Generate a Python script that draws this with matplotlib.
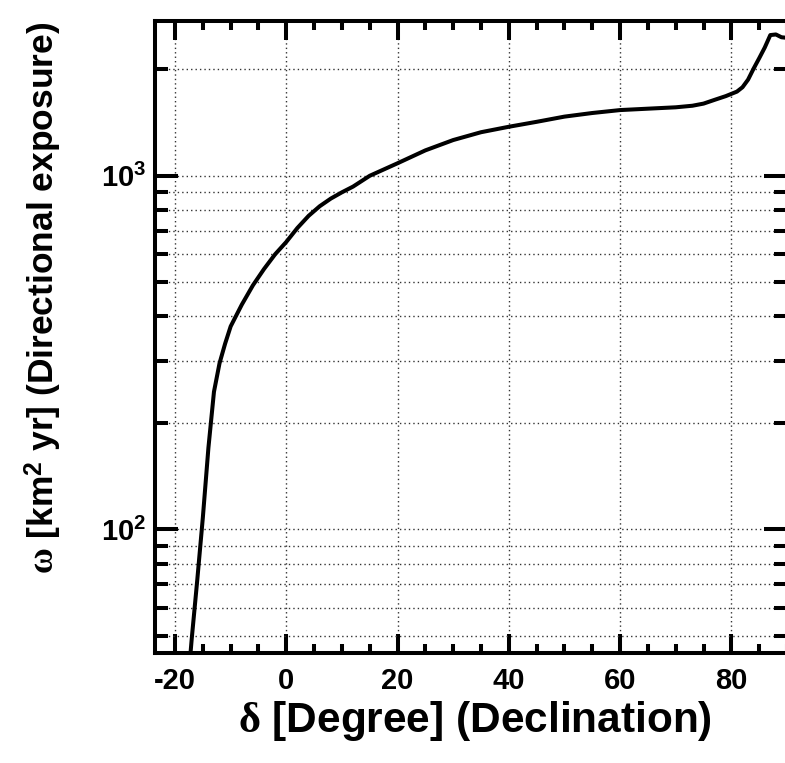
import matplotlib
matplotlib.use('Agg')
import matplotlib.pyplot as plt
from matplotlib.ticker import MultipleLocator, LogLocator, NullFormatter

# directional exposure vs declination
dec = [-18, -17, -16, -15, -14, -13, -12, -11, -10, -8, -6, -4, -2, 0,
       2, 4, 6, 8, 10, 12, 15, 20, 25, 30, 35, 40, 45, 50, 55, 60, 65, 70,
       73, 75, 77, 79, 81, 82, 83, 84, 85, 86, 87, 88, 89, 90]
exposure = [32, 49, 72, 108, 170, 245, 295, 335, 375, 432, 490, 545, 600, 650,
            712, 770, 820, 862, 898, 932, 1000, 1085, 1180, 1262, 1328, 1376, 1421, 1470, 1505, 1534, 1548, 1562,
            1578, 1600, 1640, 1680, 1730, 1780, 1870, 2010, 2150, 2305, 2500, 2510, 2465, 2455]

plt.rcParams['font.family'] = ['Liberation Sans', 'DejaVu Sans']
plt.rcParams['font.weight'] = 'bold'
plt.rcParams['axes.unicode_minus'] = False
plt.rcParams['mathtext.fontset'] = 'custom'
plt.rcParams['mathtext.rm'] = 'Liberation Sans:bold'
plt.rcParams['mathtext.bf'] = 'Liberation Sans:bold'
plt.rcParams['mathtext.it'] = 'Liberation Serif'

W, H = 785, 763
fig = plt.figure(figsize=(W / 100, H / 100), dpi=100)
ax = fig.add_axes([155 / W, (H - 653) / H, (787 - 155) / W, (653 - 21) / H])

ax.plot(dec, exposure, color='black', lw=2.9)

ax.set_yscale('log')
ax.set_xlim(-23.6, 90)
ax.set_ylim(44.7, 2740)

ax.xaxis.set_major_locator(MultipleLocator(20))
ax.xaxis.set_minor_locator(MultipleLocator(5))
ax.yaxis.set_major_locator(LogLocator(base=10))
ax.yaxis.set_minor_locator(LogLocator(base=10, subs=range(2, 10)))
ax.yaxis.set_minor_formatter(NullFormatter())

# grid
ax.grid(True, which='major', axis='x', ls=(0, (1, 2.2)), color='#333333', lw=1.0)
ax.grid(True, which='both', axis='y', ls=(0, (1, 2.2)), color='#333333', lw=1.0)
ax.set_axisbelow(True)

for s in ax.spines.values():
    s.set_linewidth(2.9)

ax.tick_params(which='both', direction='in', top=True, right=True, width=2.9,
               labelsize=21, colors='black')
ax.tick_params(axis='x', which='major', length=14, pad=10)
ax.tick_params(axis='x', which='minor', length=6.5)
ax.tick_params(axis='y', which='major', length=16.5, pad=6)
ax.tick_params(axis='y', which='minor', length=9.5)

fig.text(475 / W, 1 - 721 / H, r'$\delta$ [Degree] (Declination)',
         ha='center', va='center', fontsize=30.5, fontweight='bold')
fig.text(44 / W, 1 - 298 / H, r'$\omega$ [km$^{2}$ yr] (Directional exposure)',
         ha='center', va='center', rotation=90, fontsize=25.5, fontweight='bold')

plt.savefig('out.png', dpi=100)
